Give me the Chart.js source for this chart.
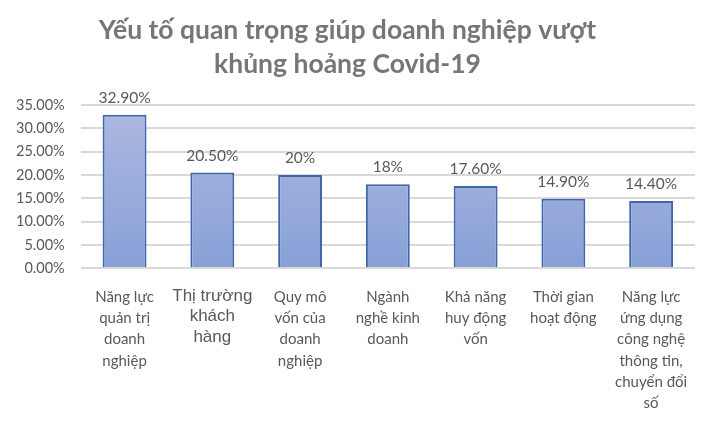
<!DOCTYPE html>
<html>
<head>
<meta charset="utf-8">
<script src="https://cdn.jsdelivr.net/npm/chart.js@4"></script>
<style>
  html, body { margin: 0; padding: 0; background: #fff; }
  #wrap { width: 706px; height: 421px; }
</style>
</head>
<body>
<div id="wrap"><canvas id="chart" width="706" height="421"></canvas></div>
<script>
const TITLE = ['Yếu tố quan trọng giúp doanh nghiệp vượt', 'khủng hoảng Covid-19'];

const CATEGORIES = [
  ['Năng lực', 'quản trị', 'doanh', 'nghiệp'],
  ['Thị trường', 'khách', 'hàng'],
  ['Quy mô', 'vốn của', 'doanh', 'nghiệp'],
  ['Ngành', 'nghề kinh', 'doanh'],
  ['Khả năng', 'huy động', 'vốn'],
  ['Thời gian', 'hoạt động'],
  ['Năng lực', 'ứng dụng', 'công nghệ', 'thông tin,', 'chuyển đổi', 'số'],
];

const VALUES = [32.9, 20.5, 20, 18, 17.6, 14.9, 14.4];
const VALUE_LABELS = ['32.90%', '20.50%', '20%', '18%', '17.60%', '14.90%', '14.40%'];

const TEXT_COLOR = '#595959';
const GRID_COLOR = '#d9d9d9';
const FONT = 'Lato, "Noto Sans", sans-serif';

/** Vertical fill like the Excel bar gradient */
function barFill(context) {
  const { chart } = context;
  const area = chart.chartArea;
  if (!area) return '#9aaede';
  const g = chart.ctx.createLinearGradient(0, area.top, 0, area.bottom);
  g.addColorStop(0, '#adb9e1');
  g.addColorStop(1, '#88a0d7');
  return g;
}

/** Value labels above each bar */
const valueLabels = {
  id: 'valueLabels',
  afterDatasetsDraw(chart) {
    const { ctx } = chart;
    const meta = chart.getDatasetMeta(0);
    ctx.save();
    ctx.font = '15.5px ' + FONT;
    ctx.fillStyle = TEXT_COLOR;
    ctx.textAlign = 'center';
    ctx.textBaseline = 'bottom';
    meta.data.forEach((bar, i) => {
      ctx.fillText(VALUE_LABELS[i], bar.x, bar.y - 9);
    });
    ctx.restore();
  },
};

new Chart(document.getElementById('chart'), {
  type: 'bar',
  data: {
    labels: CATEGORIES,
    datasets: [{
      data: VALUES,
      backgroundColor: barFill,
      borderColor: '#3f66ad',
      borderWidth: 2,
      borderSkipped: 'bottom',
      categoryPercentage: 1,
      barPercentage: 0.5,
    }],
  },
  options: {
    responsive: false,
    animation: false,
    layout: { padding: { left: 0, right: 11, top: 0, bottom: 0 } },
    plugins: {
      legend: { display: false },
      tooltip: { enabled: false },
      title: {
        display: true,
        text: TITLE,
        color: '#767676',
        font: { family: FONT, size: 26.5, weight: 'bold', lineHeight: 1.3 },
        padding: { top: 13, bottom: 23 },
      },
    },
    scales: {
      x: {
        grid: { display: false, drawTicks: false },
        border: { display: false },
        afterFit: scale => { scale.height -= 11; },
        ticks: {
          color: TEXT_COLOR,
          maxRotation: 0,
          autoSkip: false,
          padding: 18,
          font: ctx => ctx.index === 1
            ? { family: '"Liberation Sans", Arial, sans-serif', size: 17, lineHeight: 1.2 }
            : { family: FONT, size: 15, lineHeight: 1.42 },
        },
      },
      y: {
        min: 0,
        max: 35,
        ticks: {
          stepSize: 5,
          color: TEXT_COLOR,
          padding: 16,
          font: { family: FONT, size: 14.5 },
          callback: v => v.toFixed(2) + '%',
        },
        grid: { color: GRID_COLOR, lineWidth: 2, drawTicks: false },
        border: { display: false },
      },
    },
  },
  plugins: [valueLabels],
});
</script>
</body>
</html>
